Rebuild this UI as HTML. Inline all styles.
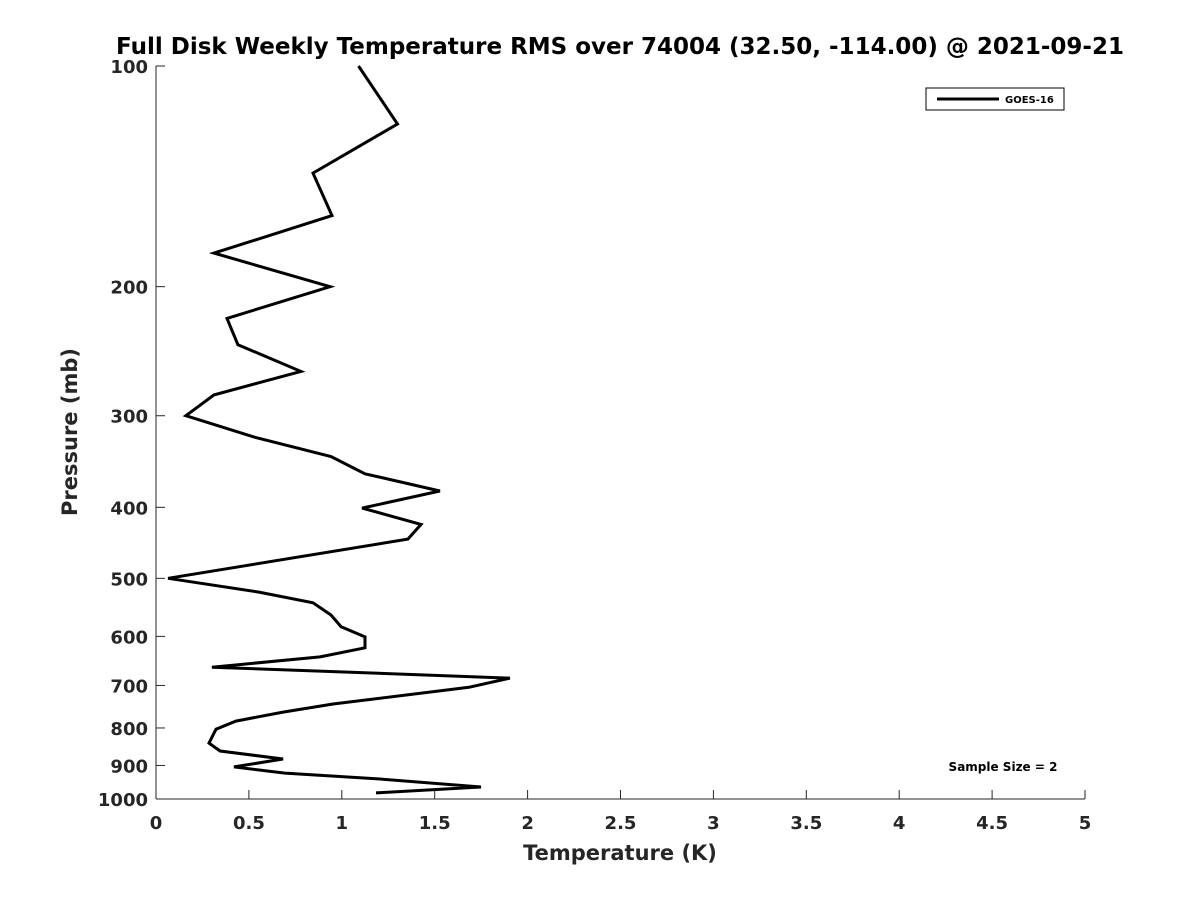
<!DOCTYPE html>
<html><head><meta charset="utf-8"><style>
body{margin:0;background:#fff}
svg text{font-family:"DejaVu Sans","Liberation Sans",sans-serif;font-weight:bold;fill:#262626}
</style></head><body>
<svg id="chart" width="1200" height="900" xmlns="http://www.w3.org/2000/svg">
<rect width="1200" height="900" fill="#fff"/>
<text x="620" y="54" text-anchor="middle" font-size="23" style="fill:#000">Full Disk Weekly Temperature RMS over 74004 (32.50, -114.00) @ 2021-09-21</text>
<g id="axes"></g>
<polyline id="series" fill="none" stroke="#000" stroke-width="3" stroke-linejoin="miter"/>
<text x="620" y="860" text-anchor="middle" font-size="21">Temperature (K)</text>
<text transform="translate(77,432) rotate(-90)" text-anchor="middle" font-size="21">Pressure (mb)</text>
<g>
<rect x="926" y="88" width="138" height="22" fill="#fff" stroke="#000" stroke-width="1"/>
<line x1="937" y1="99" x2="999" y2="99" stroke="#000" stroke-width="3"/>
<text x="1005" y="103" font-size="10" style="fill:#000">GOES-16</text>
</g>
<text x="1003" y="771" text-anchor="middle" font-size="12" style="fill:#000">Sample Size = 2</text>
</svg>
<script>
const pressures=[100,120,140,160,180,200,221,240,261,281,300,321,341,360,380,401,422,442,500,522,540,561,582,601,622,640,661,684,704,742,761,783,803,839,860,882,904,922,939,963,981];
const temps=[1.09,1.30,0.845,0.947,0.312,0.937,0.382,0.441,0.780,0.312,0.161,0.533,0.942,1.125,1.528,1.109,1.426,1.356,0.065,0.554,0.845,0.942,0.996,1.125,1.125,0.883,0.301,1.905,1.684,0.953,0.684,0.430,0.323,0.285,0.345,0.684,0.420,0.694,1.206,1.749,1.184];
const xTicks=[0,0.5,1,1.5,2,2.5,3,3.5,4,4.5,5];
const yTicks=[100,200,300,400,500,600,700,800,900,1000];
const X0=156,X1=1085,Y0=66,Y1=799;
const xs=v=>X0+(v-0)/5*(X1-X0);
const ys=p=>Y0+(Math.log10(p)-2)*(Y1-Y0);
const NS="http://www.w3.org/2000/svg";
const ax=document.getElementById('axes');
function mk(t,a){const e=document.createElementNS(NS,t);for(const k in a)e.setAttribute(k,a[k]);ax.appendChild(e);return e;}
const yl=mk('line',{x1:X0,y1:Y0,x2:X0,y2:Y1,stroke:'#262626','stroke-width':1});


const xl=mk('line',{x1:X0,y1:Y1,x2:X1,y2:Y1,stroke:'#262626','stroke-width':1});


xTicks.forEach(v=>{
 const x=xs(v);
 const t=mk('line',{x1:x,y1:Y1,x2:x,y2:Y1-9,stroke:'#262626'});
 
 
 const l=mk('text',{x:x,y:829,'text-anchor':'middle','font-size':18});
 
 
 l.textContent=String(v);
});
yTicks.forEach(p=>{
 const y=ys(p);
 const t=mk('line',{x1:X0,y1:y,x2:X0+9,y2:y,stroke:'#262626'});
 
 
 const l=mk('text',{x:148,y:y+7,'text-anchor':'end','font-size':18});
 
 
 l.textContent=String(p);
});
document.getElementById('series').setAttribute('points',pressures.map((p,i)=>xs(temps[i]).toFixed(1)+','+ys(p).toFixed(1)).join(' '));
</script>
</body></html>
